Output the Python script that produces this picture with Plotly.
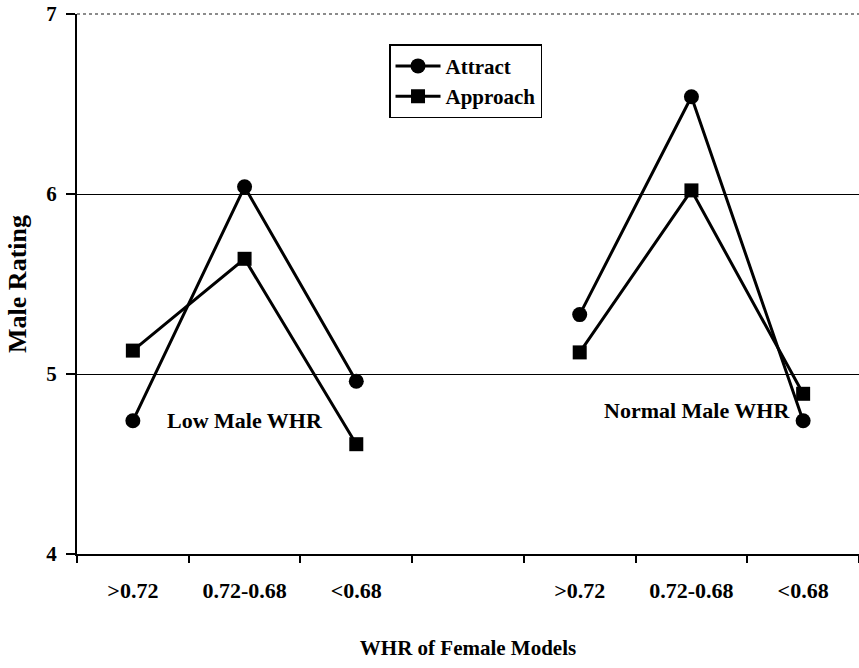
import plotly.graph_objects as go

# Category positions (0-2 = Low Male WHR, 4-6 = Normal Male WHR; 3 is an empty gap)
x_low = [0, 1, 2]
x_norm = [4, 5, 6]
tick_labels = [">0.72", "0.72-0.68", "<0.68", ">0.72", "0.72-0.68", "<0.68"]
tick_positions = [0, 1, 2, 4, 5, 6]
boundaries = [-0.5, 0.5, 1.5, 2.5, 3.5, 4.5, 5.5, 6.5]

attract_low = [4.74, 6.04, 4.96]
approach_low = [5.13, 5.64, 4.61]
attract_norm = [5.33, 6.54, 4.74]
approach_norm = [5.12, 6.02, 4.89]

FONT = "Liberation Serif"
line_style = dict(color="black", width=3)

fig = go.Figure()
fig.add_trace(go.Scatter(x=x_low, y=attract_low, mode="lines+markers", name="<b>Attract</b>",
                         line=line_style, marker=dict(symbol="circle", size=15, color="black"),
                         legendgroup="a"))
fig.add_trace(go.Scatter(x=x_low, y=approach_low, mode="lines+markers", name="<b>Approach</b>",
                         line=line_style, marker=dict(symbol="square", size=14, color="black"),
                         legendgroup="b"))
fig.add_trace(go.Scatter(x=x_norm, y=attract_norm, mode="lines+markers", name="<b>Attract</b>",
                         line=line_style, marker=dict(symbol="circle", size=15, color="black"),
                         legendgroup="a", showlegend=False))
fig.add_trace(go.Scatter(x=x_norm, y=approach_norm, mode="lines+markers", name="<b>Approach</b>",
                         line=line_style, marker=dict(symbol="square", size=14, color="black"),
                         legendgroup="b", showlegend=False))

fig.add_annotation(x=1, y=4.74, text="<b>Low Male WHR</b>", showarrow=False,
                   font=dict(family=FONT, size=22, color="black"), xref="x", yref="y")
fig.add_annotation(x=5.05, y=4.8, text="<b>Normal Male WHR</b>", showarrow=False,
                   font=dict(family=FONT, size=22, color="black"), xref="x", yref="y")

# dotted top border of the plot area
fig.add_shape(type="line", xref="paper", yref="paper", x0=0, x1=1, y0=1, y1=1,
              line=dict(color="#666666", width=1.5, dash="dot"))

fig.update_layout(
    width=859, height=668,
    margin=dict(l=77, r=0, t=14, b=114),
    plot_bgcolor="white", paper_bgcolor="white",
    font=dict(family=FONT, color="black"),
    showlegend=True,
    legend=dict(x=0.399, y=0.944, xanchor="left", yanchor="top",
                bordercolor="black", borderwidth=1.5, bgcolor="white",
                font=dict(family=FONT, size=21, color="black"),
                itemwidth=45, tracegroupgap=0),
    xaxis=dict(range=[-0.5, 6.5], tickmode="array", tickvals=tick_positions,
               ticktext=["<b>%s</b>" % t for t in tick_labels], ticks="",
               minor=dict(tickmode="array", tickvals=boundaries, ticks="outside", ticklen=7,
                          tickcolor="black", tickwidth=1.5, showgrid=False),
               showline=True, linecolor="black", linewidth=2, showgrid=False, zeroline=False,
               tickfont=dict(family=FONT, size=22, color="black"), ticklabelstandoff=16,
               title=dict(text="<b>WHR of Female Models</b>", font=dict(family=FONT, size=21, color="black"),
                          standoff=38)),
    yaxis=dict(range=[4, 7], tickmode="array", tickvals=[4, 5, 6, 7],
               ticktext=["<b>%d</b>" % v for v in [4, 5, 6, 7]],
               ticks="outside", ticklen=9, tickcolor="black", tickwidth=1.5,
               showline=True, linecolor="black", linewidth=2,
               showgrid=True, gridcolor="black", gridwidth=1.2, zeroline=False,
               tickfont=dict(family=FONT, size=21, color="black"), ticklabelstandoff=5,
               title=dict(text="<b>Male Rating</b>", font=dict(family=FONT, size=26, color="black"),
                          standoff=12)),
)

fig.write_html("out.html", config={"displayModeBar": False},
               post_script="document.body.style.margin='0';")
